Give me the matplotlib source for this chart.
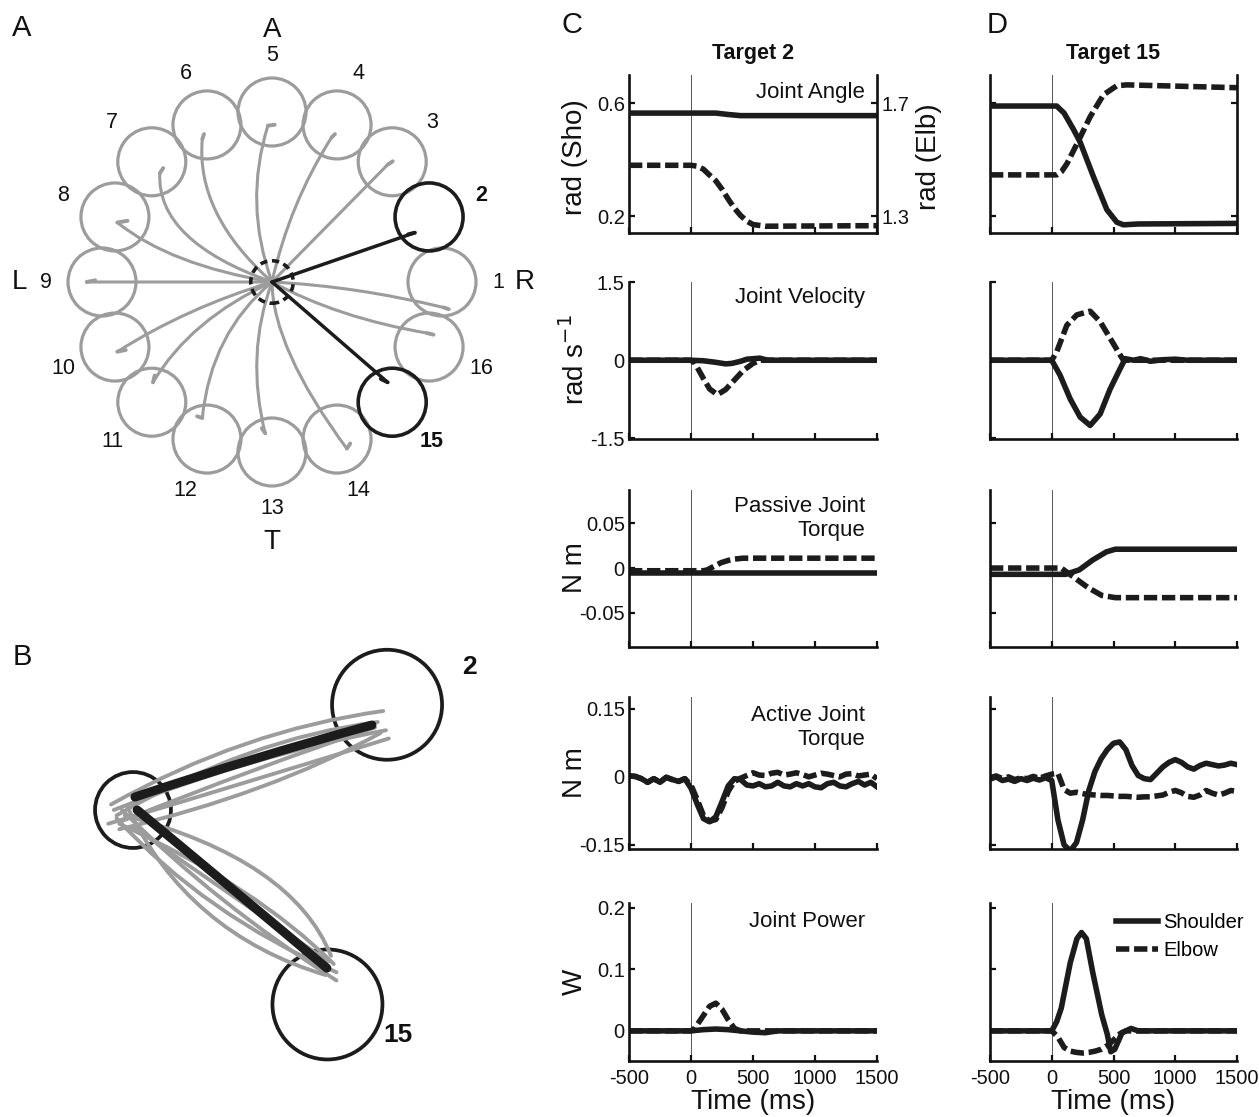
"""
Reach paths to 16 targets (A), mean paths to targets 2 and 15 (B),
and joint kinematics / torques / power for those two targets (C, D).
"""

import numpy as np
import matplotlib
matplotlib.use("Agg")
import matplotlib.pyplot as plt
from matplotlib.patches import Circle, PathPatch
from matplotlib.path import Path

plt.rcParams["font.family"] = ["Liberation Sans", "DejaVu Sans"]
plt.rcParams["axes.unicode_minus"] = False

W, H = 1259, 1117
GRAY = "#9c9c9c"
INK = "#1c1c1c"

# ── Panel A: targets and hand paths (cm, start position at origin) ──────────
TARGET_IDS = [1, 2, 3, 4, 5, 6, 7, 8, 9, 10, 11, 12, 13, 14, 15, 16]
TARGET_ANGLES = [0, 22.5, 45, 67.5, 90, 112.5, 135, 157.5,
                 180, 202.5, 225, 247.5, 270, 292.5, 315, 337.5]
TARGET_DIST = 10.0
TARGET_RADIUS = 2.0
START_RADIUS = 1.25
HIGHLIGHT = [2, 15]

PATH_END = [(10.1, -1.5), (8.4, 2.9), (6.8, 6.9), (3.5, 8.5),
            (-0.24, 9.2), (-4.1, 8.4), (-6.6, 6.4), (-9.1, 3.5),
            (-10.9, 0.0), (-9.1, -4.1), (-7.0, -5.9), (-4.1, -8.0),
            (-0.4, -8.9), (4.4, -9.8), (6.8, -5.9), (9.1, -3.0)]
PATH_CTRL = [(4.95, -0.25), (4.2, 1.45), (3.4, 3.45), (1.0, 4.55),
             (-1.68, 4.6), (-4.5, 4.0), (-6.8, 2.4), (-6.0, 1.0),
             (-5.45, 0.0), (-5.0, -1.5), (-4.8, -2.2), (-3.6, -3.0),
             (-1.57, -4.26), (0.04, -3.9), (3.4, -2.95), (3.85, -2.1)]
PATH_HOOK = [(0.3, -0.1), (-0.4, -0.1), (0.3, 0.2), (0.2, 0.2),
             (0.4, 0.05), (0.1, 0.3), (0.2, 0.3), (0.6, 0.1),
             (0.5, 0.1), (0.5, 0.1), (0.1, 0.4), (-0.3, 0.1),
             (-0.2, 0.3), (0.2, 0.3), (-0.4, 0.2), (0.4, -0.1)]
DIR_LABELS = ["R", "A", "L", "T"]
DIR_ANGLES = [0, 90, 180, 270]

# ── Panel B: individual trials (gray) and mean (black) to targets 2 and 15 ─
B_TRIALS_2 = [((-0.8, 0.2), (4.0, 2.9), (9.1, 3.6)),
              ((-0.6, -0.2), (4.2, 2.6), (8.9, 3.2)),
              ((-0.9, -0.5), (4.8, 1.2), (9.3, 2.6)),
              ((-0.5, -0.7), (5.0, 0.6), (9.0, 2.8)),
              ((-0.7, 0.0), (4.4, 2.0), (9.2, 2.9)),
              ((-0.4, -0.4), (4.6, 1.6), (8.8, 3.0))]
B_TRIALS_15 = [((-0.3, -0.2), (5.8, -1.8), (7.2, -5.3)),
               ((-0.5, -0.5), (4.5, -2.8), (7.3, -5.6)),
               ((-0.2, 0.1), (2.0, -4.5), (7.0, -6.0)),
               ((-0.6, -0.3), (2.6, -3.8), (7.4, -5.9)),
               ((0.0, -0.6), (3.4, -3.0), (7.1, -5.5)),
               ((-0.4, 0.0), (3.0, -3.4), (7.4, -6.2))]
B_MEAN_2 = ((0.07, 0.47), (4.3, 1.9), (8.69, 3.09))
B_MEAN_15 = ((0.15, 0.0), (3.6, -2.85), (7.05, -5.75))

# ── Panels C/D: time series (ms) ────────────────────────────────────────────
T50 = [-500, -450, -400, -350, -300, -250, -200, -150, -100, -50, 0, 50, 100,
       150, 200, 250, 300, 350, 400, 450, 500, 550, 600, 650, 700, 750, 800,
       850, 900, 950, 1000, 1050, 1100, 1150, 1200, 1250, 1300, 1350, 1400,
       1450, 1500]

# joint angle (shoulder rad, elbow rad)
ANG_C_SHO_T = [-500, 200, 300, 400, 1500]
ANG_C_SHO = [0.565, 0.565, 0.560, 0.556, 0.556]
ANG_C_ELB_T = [-500, 0, 50, 100, 150, 200, 250, 300, 350, 400, 450, 500, 600, 1500]
ANG_C_ELB = [1.48, 1.48, 1.477, 1.466, 1.445, 1.425, 1.395, 1.36, 1.328,
             1.302, 1.282, 1.27, 1.264, 1.266]
ANG_D_SHO_T = [-500, 40, 100, 176, 230, 338, 446, 527, 581, 700, 1500]
ANG_D_SHO = [0.59, 0.59, 0.565, 0.507, 0.462, 0.339, 0.223, 0.178, 0.169,
             0.172, 0.174]
ANG_D_ELB_T = [-500, 40, 80, 122, 203, 311, 419, 527, 608, 1500]
ANG_D_ELB = [1.446, 1.446, 1.458, 1.485, 1.555, 1.652, 1.730, 1.762, 1.765, 1.755]

# joint velocity (rad/s)
VEL_C_SHO_T = [-500, 0, 100, 200, 280, 330, 400, 450, 555, 620, 1500]
VEL_C_SHO = [0, 0, -0.01, -0.04, -0.07, -0.06, -0.02, 0.02, 0.04, 0.0, 0.0]
VEL_C_ELB_T = [-500, 0, 30, 100, 150, 213, 280, 350, 420, 500, 560, 1500]
VEL_C_ELB = [0, 0, -0.05, -0.35, -0.55, -0.66, -0.56, -0.38, -0.2, -0.06, 0.0, 0.0]
VEL_D_SHO_T = [-500, 0, 68, 149, 230, 311, 392, 473, 554, 595, 662, 720,
               800, 900, 1000, 1100, 1500]
VEL_D_SHO = [0, 0, -0.29, -0.74, -1.09, -1.25, -1.03, -0.55, -0.16, 0.03,
             0.0, 0.03, -0.02, 0.01, 0.02, 0.0, 0.0]
VEL_D_ELB_T = [-500, 0, 40, 122, 203, 311, 392, 473, 554, 581, 1500]
VEL_D_ELB = [0, 0, 0.16, 0.67, 0.87, 0.94, 0.74, 0.42, 0.10, 0.0, 0.0]

# passive joint torque (N m)
PAS_C_SHO_T = [-500, 1500]
PAS_C_SHO = [-0.006, -0.006]
PAS_C_ELB_T = [-500, 100, 132, 200, 243, 300, 353, 420, 463, 1500]
PAS_C_ELB = [-0.003, -0.003, -0.002, 0.003, 0.006, 0.0085, 0.010, 0.011, 0.011, 0.011]
PAS_D_SHO_T = [-500, 113, 223, 332, 442, 515, 1500]
PAS_D_SHO = [-0.007, -0.007, -0.002, 0.009, 0.018, 0.021, 0.021]
PAS_D_ELB_T = [-500, 77, 186, 296, 405, 515, 1500]
PAS_D_ELB = [0.0, 0.0, -0.011, -0.022, -0.0305, -0.033, -0.033]

# active joint torque (N m), sampled every 50 ms
ACT_C_SHO = [0.002, 0.001, -0.004, -0.012, -0.004, -0.012, -0.001, -0.006,
             -0.010, -0.004, -0.025, -0.060, -0.092, -0.099, -0.088, -0.055,
             -0.020, -0.004, -0.006, -0.018, -0.020, -0.015, -0.022, -0.020,
             -0.012, -0.020, -0.022, -0.015, -0.020, -0.015, -0.022, -0.024,
             -0.015, -0.012, -0.020, -0.022, -0.015, -0.010, -0.018, -0.012,
             -0.022]
ACT_C_ELB = [0.002, 0.001, -0.004, -0.012, -0.004, -0.012, -0.001, -0.006,
             -0.010, -0.004, -0.018, -0.050, -0.085, -0.098, -0.094, -0.068,
             -0.032, -0.010, -0.003, 0.003, 0.009, 0.004, 0.003, 0.008,
             0.010, 0.004, 0.006, 0.009, 0.005, 0.000, 0.004, 0.008,
             0.006, 0.003, 0.000, 0.006, 0.007, 0.002, 0.004, 0.006,
             -0.004]
ACT_D_SHO = [-0.005, 0.000, -0.008, -0.005, -0.010, -0.004, -0.008, -0.003,
             -0.007, -0.002, -0.008, -0.095, -0.150, -0.163, -0.145, -0.095,
             -0.030, 0.012, 0.040, 0.060, 0.074, 0.077, 0.060, 0.025,
             0.003, -0.004, -0.006, 0.008, 0.022, 0.032, 0.038, 0.032,
             0.022, 0.017, 0.025, 0.030, 0.027, 0.024, 0.026, 0.030,
             0.027]
ACT_D_ELB = [-0.002, 0.002, -0.004, 0.000, -0.006, -0.002, -0.004, 0.001,
             -0.003, 0.002, 0.006, 0.008, -0.028, -0.036, -0.034, -0.037,
             -0.039, -0.040, -0.041, -0.041, -0.042, -0.043, -0.043, -0.044,
             -0.045, -0.044, -0.044, -0.042, -0.040, -0.034, -0.030, -0.035,
             -0.043, -0.045, -0.040, -0.030, -0.036, -0.040, -0.036, -0.030,
             -0.032]

# joint power (W)
POW_C_SHO_T = [-500, 0, 100, 200, 300, 400, 500, 600, 700, 1500]
POW_C_SHO = [0, 0, 0.002, 0.003, 0.002, 0.0, -0.002, -0.003, 0.0, 0.0]
POW_C_ELB_T = [-500, 0, 30, 100, 150, 200, 250, 300, 350, 400, 1500]
POW_C_ELB = [0, 0, 0.004, 0.025, 0.04, 0.045, 0.035, 0.018, 0.004, 0.0, 0.0]
POW_D_SHO_T = [-500, 0, 40, 77, 150, 204, 241, 280, 332, 405, 449, 478, 510,
               569, 642, 700, 1500]
POW_D_SHO = [0, 0, 0.015, 0.037, 0.111, 0.15, 0.16, 0.15, 0.095, 0.026,
             -0.005, -0.034, -0.03, -0.003, 0.004, 0.0, 0.0]
POW_D_ELB_T = [-500, 0, 50, 100, 150, 200, 250, 300, 350, 400, 450, 500,
               550, 600, 1500]
POW_D_ELB = [0, 0, -0.01, -0.027, -0.033, -0.035, -0.036, -0.035, -0.033,
             -0.03, -0.024, -0.015, -0.005, 0, 0]

ROW_NAMES = ["Joint Angle", "Joint Velocity", "Passive Joint\nTorque",
             "Active Joint\nTorque", "Joint Power"]
ROW_YLABELS = ["rad (Sho)", "rad s$^{-1}$", "N m", "N m", "W"]
ROW_YLIM = [(0.14, 0.70), (-1.51, 1.5), (-0.088, 0.087), (-0.159, 0.176),
            (-0.049, 0.208)]
ROW_YTICKS = [[0.2, 0.6], [-1.5, 0, 1.5], [-0.05, 0, 0.05], [-0.15, 0, 0.15],
              [0, 0.1, 0.2]]
ROW_YTICKLABELS = [["0.2", "0.6"], ["-1.5", "0", "1.5"], ["-0.05", "0", "0.05"],
                   ["-0.15", "0", "0.15"], ["0", "0.1", "0.2"]]
ELB_YLIM = (1.24, 1.80)
ELB_YTICKS = [1.3, 1.7]
XTICKS = [-500, 0, 500, 1000, 1500]

SERIES_C = [((ANG_C_SHO_T, ANG_C_SHO), (ANG_C_ELB_T, ANG_C_ELB)),
            ((VEL_C_SHO_T, VEL_C_SHO), (VEL_C_ELB_T, VEL_C_ELB)),
            ((PAS_C_SHO_T, PAS_C_SHO), (PAS_C_ELB_T, PAS_C_ELB)),
            ((T50, ACT_C_SHO), (T50, ACT_C_ELB)),
            ((POW_C_SHO_T, POW_C_SHO), (POW_C_ELB_T, POW_C_ELB))]
SERIES_D = [((ANG_D_SHO_T, ANG_D_SHO), (ANG_D_ELB_T, ANG_D_ELB)),
            ((VEL_D_SHO_T, VEL_D_SHO), (VEL_D_ELB_T, VEL_D_ELB)),
            ((PAS_D_SHO_T, PAS_D_SHO), (PAS_D_ELB_T, PAS_D_ELB)),
            ((T50, ACT_D_SHO), (T50, ACT_D_ELB)),
            ((POW_D_SHO_T, POW_D_SHO), (POW_D_ELB_T, POW_D_ELB))]


fig = plt.figure(figsize=(W / 100, H / 100), dpi=100)
fig.patch.set_facecolor("white")


def px_axes(left, top, right, bottom):
    return fig.add_axes([left / W, 1 - bottom / H, (right - left) / W, (bottom - top) / H])


def px_text(x, y, s, **kw):
    kw.setdefault("ha", "center")
    kw.setdefault("va", "center")
    fig.text(x / W, 1 - y / H, s, **kw)


def bezier(p0, p1, p2, **kw):
    return PathPatch(Path([p0, p1, p2], [Path.MOVETO, Path.CURVE3, Path.CURVE3]),
                     fill=False, capstyle="round", **kw)


# ── A ───────────────────────────────────────────────────────────────────────
axA = px_axes(0, 1.5, 544, 562.5)
axA.set_xlim(-16, 16)
axA.set_ylim(-16.5, 16.5)
axA.axis("off")

for tid, ang, end, ctrl, hook in zip(TARGET_IDS, TARGET_ANGLES, PATH_END, PATH_CTRL, PATH_HOOK):
    th = np.deg2rad(ang)
    cx, cy = TARGET_DIST * np.cos(th), TARGET_DIST * np.sin(th)
    hi = tid in HIGHLIGHT
    axA.add_patch(Circle((cx, cy), TARGET_RADIUS, fill=False,
                         ec=INK if hi else GRAY, lw=2.6 if hi else 2.3,
                         zorder=4 if hi else 1))
    col = INK if hi else GRAY
    axA.add_patch(bezier((0, 0), ctrl, end, ec=col, lw=2.5 if hi else 2.2,
                         zorder=5 if hi else 2))
    axA.plot([end[0], end[0] + hook[0]], [end[1], end[1] + hook[1]],
             color=col, lw=2.8, solid_capstyle="round", zorder=5 if hi else 2)
    lx, ly = 13.3 * np.cos(th), 13.3 * np.sin(th)
    axA.text(lx, ly, str(tid), ha="center", va="center", fontsize=15.5,
             fontweight="bold" if hi else "normal", color="#111111")

axA.add_patch(Circle((0, 0), START_RADIUS, fill=False, ec=INK, lw=2.6,
                     ls=(0, (2.0, 1.3)), zorder=6))
for lab, ang in zip(DIR_LABELS, DIR_ANGLES):
    th = np.deg2rad(ang)
    r = 15.3 if lab == "T" else 14.85
    axA.text(r * np.cos(th), r * np.sin(th), lab, ha="center", va="center",
             fontsize=20, color="#111111")

# ── B ───────────────────────────────────────────────────────────────────────
axB = px_axes(9.25, 645, 476.75, 1085)
axB.set_xlim(-4.5, 12.5)
axB.set_ylim(-10, 6)
axB.axis("off")

for tid, label_off in zip(HIGHLIGHT, [(3.0, 1.37), (2.57, -1.1)]):
    th = np.deg2rad(TARGET_ANGLES[TARGET_IDS.index(tid)])
    cx, cy = TARGET_DIST * np.cos(th), TARGET_DIST * np.sin(th)
    axB.add_patch(Circle((cx, cy), TARGET_RADIUS, fill=False, ec=INK, lw=2.7))
    axB.text(cx + label_off[0], cy + label_off[1], str(tid), ha="center",
             va="center", fontsize=19, fontweight="bold", color="#111111")
axB.add_patch(Circle((0, 0), 1.38, fill=False, ec=INK, lw=2.7))

for p0, p1, p2 in B_TRIALS_2 + B_TRIALS_15:
    axB.add_patch(bezier(p0, p1, p2, ec=GRAY, lw=2.8, zorder=2))
for p0, p1, p2 in [B_MEAN_2, B_MEAN_15]:
    axB.add_patch(bezier(p0, p1, p2, ec=INK, lw=6.5, zorder=3))

# ── C and D ─────────────────────────────────────────────────────────────────
ROWS = [(75, 233), (282, 439), (490, 647), (697, 849), (903, 1061)]
COLS = [(629, 877), (990, 1237)]
LW = 4.0
DASH = (0, (2.4, 0.85))
NAME_Y = [0.89, 0.9, 0.82, 0.80, 0.88]
TICK_FS = 14.5


def style_axis(ax, labels_y, labels_x):
    for side in ["top", "right"]:
        ax.spines[side].set_visible(False)
    for side in ["left", "bottom"]:
        ax.spines[side].set_linewidth(1.9)
        ax.spines[side].set_color("#111111")
    ax.tick_params(direction="in", length=4, width=1.6, labelsize=TICK_FS,
                   colors="#111111", pad=3)
    ax.tick_params(axis="x", pad=6)
    if not labels_y:
        ax.set_yticklabels([])
    if not labels_x:
        ax.set_xticklabels([])


for ci, (col, series) in enumerate(zip(COLS, [SERIES_C, SERIES_D])):
    for ri, (row, ((ts, vs), (te, ve))) in enumerate(zip(ROWS, series)):
        ax = px_axes(col[0], row[0], col[1], row[1])
        ax.set_xlim(-500, 1500)
        ax.set_ylim(*ROW_YLIM[ri])
        ax.set_xticks(XTICKS)
        ax.set_xticklabels([str(x) for x in XTICKS])
        ax.set_yticks(ROW_YTICKS[ri])
        ax.set_yticklabels(ROW_YTICKLABELS[ri])
        ax.axvline(0, color="#555555", lw=0.7, zorder=1)
        style_axis(ax, ci == 0, ri == 4)

        if ri == 0:
            ax2 = ax.twinx()
            ax2.set_ylim(*ELB_YLIM)
            ax2.set_yticks(ELB_YTICKS)
            ax2.set_yticklabels(["1.3", "1.7"] if ci == 0 else ["", ""])
            for side in ["top", "left", "bottom"]:
                ax2.spines[side].set_visible(False)
            ax2.spines["right"].set_linewidth(1.9)
            ax2.spines["right"].set_color("#111111")
            ax2.tick_params(direction="in", length=4, width=1.6, labelsize=TICK_FS,
                            colors="#111111", pad=3)
            ax2.plot(te, ve, color=INK, lw=LW, ls=DASH, dash_capstyle="butt")
            ax2.plot(ts, [v + 1.1 for v in vs], color=INK, lw=LW)
        else:
            ax.plot(te, ve, color=INK, lw=LW, ls=DASH, dash_capstyle="butt",
                    label="Elbow")
            ax.plot(ts, vs, color=INK, lw=LW, label="Shoulder")

        if ci == 0:
            ax.text(0.952, NAME_Y[ri], ROW_NAMES[ri], transform=ax.transAxes,
                    ha="right", va="center", fontsize=16, color="#111111",
                    multialignment="right", linespacing=1.2)
        if ci == 1 and ri == 4:
            h, l = ax.get_legend_handles_labels()
            ax.legend(h[::-1], l[::-1], loc="upper right", frameon=False,
                      fontsize=14.5, handlelength=2.1, handletextpad=0.25,
                      labelspacing=0.45, borderaxespad=0.0,
                      bbox_to_anchor=(1.06, 0.985))

# ylabels, titles, panel letters
ylab_y = [157, 360, 568, 773, 982]
for lab, y in zip(ROW_YLABELS, ylab_y):
    px_text(575, y, lab, rotation=90, fontsize=20, color="#111111")
px_text(929, 157, "rad (Elb)", rotation=90, fontsize=20, color="#111111")
px_text(753, 53, "Target 2", fontsize=15.5, fontweight="bold", color="#111111")
px_text(1113, 53, "Target 15", fontsize=15.5, fontweight="bold", color="#111111")
px_text(753, 1102, "Time (ms)", fontsize=20, color="#111111")
px_text(1113, 1102, "Time (ms)", fontsize=20, color="#111111")
for letter, (x, y) in zip("ABCD", [(22, 28), (22, 657), (572, 25), (997, 25)]):
    px_text(x, y, letter, fontsize=21, color="#111111")

fig.savefig("out.png", dpi=100, facecolor="white")
